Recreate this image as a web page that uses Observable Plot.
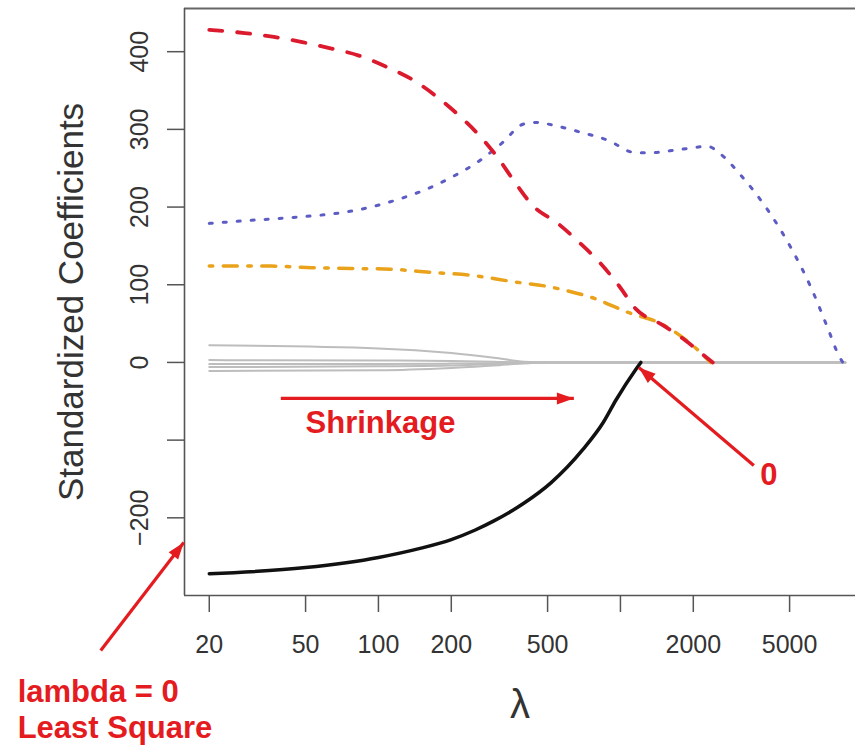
<!DOCTYPE html>
<html>
<head>
<meta charset="utf-8">
<script src="https://cdn.jsdelivr.net/npm/d3@7"></script>
<script src="https://cdn.jsdelivr.net/npm/@observablehq/plot@0.6"></script>
<style>
  html, body { margin: 0; padding: 0; background: #ffffff; }
  #chart svg { display: block; }
</style>
</head>
<body>
<div id="chart"></div>
<script>
// ---- data ----
const redLambda = [20, 28, 37, 49, 64, 83, 109, 140, 176, 215, 265, 314, 370, 434, 551, 673, 830, 984, 1157, 1496, 1862, 2296, 2408];
const redCoef   = [428, 424, 419, 412, 404, 395, 380, 363, 341, 318, 290, 262, 230, 202, 179, 155, 127, 99, 69, 48, 28, 5, 0];

const orangeLambda = [20, 36, 53, 77, 112, 165, 245, 359, 516, 642, 754, 1083, 1468, 1953, 2362];
const orangeCoef   = [124, 124, 122, 121, 120, 116, 112, 104, 97, 90, 84, 64, 50, 24, 0];

const blueLambda = [20, 30, 46, 71, 93, 121, 158, 205, 260, 323, 399, 456, 516, 673, 887, 1157, 1335, 1742, 2296, 2598, 3142, 4066, 5058, 6118, 7192, 7982, 8294];
const blueCoef   = [179, 183, 187, 193, 200, 210, 223, 240, 259, 282, 307, 309, 306, 297, 286, 270, 270, 274, 278, 268, 241, 196, 148, 97, 44, 9, 0];

const blackLambda = [20, 50, 100, 150, 200, 250, 300, 400, 516, 700, 850, 960, 1157, 1214];
const blackCoef   = [-272, -264, -251, -239, -228, -216, -204, -181, -155, -112, -77, -48, -9, 0];

const grayLambda = [20, 100, 200, 300, 400, 500, 8500];
const gray1 = [22, 18, 12, 6, 1, 0, 0];
const gray2 = [3, 2.5, 2, 1, 0, 0, 0];
const gray3 = [-2, -2, -1.5, -1, 0, 0, 0];
const gray4 = [-6, -5, -4, -2, -1, 0, 0];
const gray5 = [-11, -10, -7, -4, -1, 0, 0];

const xTicks = [20, 50, 100, 200, 500, 1000, 2000, 5000];
const xTickLabels = ["20", "50", "100", "200", "500", "", "2000", "5000"];
const yTicks = [-200, -100, 0, 100, 200, 300, 400];
const yTickLabels = ["\u2212200", "", "0", "100", "200", "300", "400"];

const xDomain = [15.8, 9360];
const yDomain = [-300, 455.6];

// annotations (data coordinates)
const arrowFromX = [39.5, 3557, 7.12];
const arrowFromY = [-46.3, -132.6, -370.7];
const arrowToX   = [642, 1191, 15.69];
const arrowToY   = [-46.3, -6.4, -231.7];
const arrowHeadAngle = [90, -49.6, 37.5];

const annoText   = ["Shrinkage", "0", "lambda = 0", "Least Square"];
const annoX      = [102, 4102, 3.23, 3.23];
const annoY      = [-77.7, -145.4, -424.7, -471];
const annoAnchor = ["middle", "middle", "start", "start"];

const yTitle = "Standardized Coefficients";
const xTitle = "\u03bb";

// ---- build tables ----
const rows = (lam, coef) => lam.map((l, i) => ({lambda: l, coef: coef[i]}));
const grayRows = [gray1, gray2, gray3, gray4, gray5].flatMap((g, k) =>
  grayLambda.map((l, i) => ({lambda: l, coef: g[i], k})));
const arrows = arrowFromX.map((_, i) => ({x1: arrowFromX[i], y1: arrowFromY[i], x2: arrowToX[i], y2: arrowToY[i], angle: arrowHeadAngle[i]}));
const annos = annoText.map((t, i) => ({text: t, x: annoX[i], y: annoY[i], anchor: annoAnchor[i]}));

// filled arrow-head symbol with its tip at the origin, pointing up
const arrowHead = {
  draw(context) {
    context.moveTo(0, 0);
    context.lineTo(-6, 17);
    context.lineTo(6, 17);
    context.closePath();
  }
};

const fontFamily = "'Liberation Sans', Arial, Helvetica, sans-serif";
const RED = "#e41c1f";
const axisColor = "#555";
const textColor = "#333";

const chart = Plot.plot({
  width: 855,
  height: 745,
  marginLeft: 184,
  marginRight: 0,
  marginTop: 8,
  marginBottom: 150,
  style: {fontFamily, background: "#ffffff", overflow: "visible"},
  x: {type: "log", domain: xDomain},
  y: {domain: yDomain},
  marks: [
    // gray coefficient paths
    Plot.line(grayRows, {x: "lambda", y: "coef", z: "k", stroke: "#bdbdbd", strokeWidth: 2, curve: "monotone-x"}),
    // black solid
    Plot.line(rows(blackLambda, blackCoef), {x: "lambda", y: "coef", stroke: "#111", strokeWidth: 3.5, curve: "monotone-x"}),
    // orange dash-dot
    Plot.line(rows(orangeLambda, orangeCoef), {x: "lambda", y: "coef", stroke: "#e9a21a", strokeWidth: 3.5, strokeDasharray: "3.5,10.5,14,10.5", curve: "monotone-x"}),
    // blue dotted
    Plot.line(rows(blueLambda, blueCoef), {x: "lambda", y: "coef", stroke: "#5c5cc4", strokeWidth: 3, strokeDasharray: "3,11", curve: "monotone-x"}),
    // red dashed
    Plot.line(rows(redLambda, redCoef), {x: "lambda", y: "coef", stroke: "#dc1a2e", strokeWidth: 3.8, strokeDasharray: "13,15", curve: "monotone-x"}),

    // frame (left, top, bottom; right edge lies beyond the picture)
    Plot.ruleY([yDomain[1]], {stroke: "#666", strokeWidth: 2}),
    Plot.ruleY([yDomain[0]], {stroke: "#555", strokeWidth: 1.6}),
    Plot.ruleX([xDomain[0]], {stroke: "#555", strokeWidth: 1.6}),

    // axes ticks
    Plot.axisX(xTicks, {tickSize: 17, tickFormat: () => "", label: null, stroke: axisColor, strokeWidth: 1.5}),
    Plot.axisY(yTicks, {tickSize: 17, tickFormat: () => "", label: null, stroke: axisColor, strokeWidth: 1.5}),

    // tick labels
    Plot.text(xTicks, {x: d => d, text: (d, i) => xTickLabels[i], frameAnchor: "bottom", dy: 49, fontSize: 25, fill: textColor, textAnchor: "middle", lineAnchor: "middle"}),
    Plot.text(yTicks, {y: d => d, text: (d, i) => yTickLabels[i], frameAnchor: "left", dx: -45, rotate: -90, fontSize: 25, fill: textColor, textAnchor: "middle", lineAnchor: "middle"}),

    // axis titles
    Plot.text([yTitle], {frameAnchor: "left", dx: -113, rotate: -90, fontSize: 35, fill: textColor, textAnchor: "middle", lineAnchor: "middle"}),
    Plot.text([xTitle], {frameAnchor: "bottom", dy: 110, fontSize: 40, fill: textColor, textAnchor: "middle", lineAnchor: "middle"}),

    // red annotations
    Plot.link(arrows, {x1: "x1", y1: "y1", x2: "x2", y2: "y2", stroke: RED, strokeWidth: 3.2}),
    Plot.dot(arrows, {x: "x2", y: "y2", rotate: "angle", symbol: arrowHead, r: 6, fill: RED, stroke: "none"}),
    Plot.text(annos.filter(d => d.anchor === "middle"), {x: "x", y: "y", text: "text", fill: RED, fontSize: 31, fontWeight: "bold", textAnchor: "middle", lineAnchor: "middle"}),
    Plot.text(annos.filter(d => d.anchor === "start"), {x: "x", y: "y", text: "text", fill: RED, fontSize: 31, fontWeight: "bold", textAnchor: "start", lineAnchor: "middle"})
  ]
});

document.getElementById("chart").appendChild(chart);
</script>
</body>
</html>
